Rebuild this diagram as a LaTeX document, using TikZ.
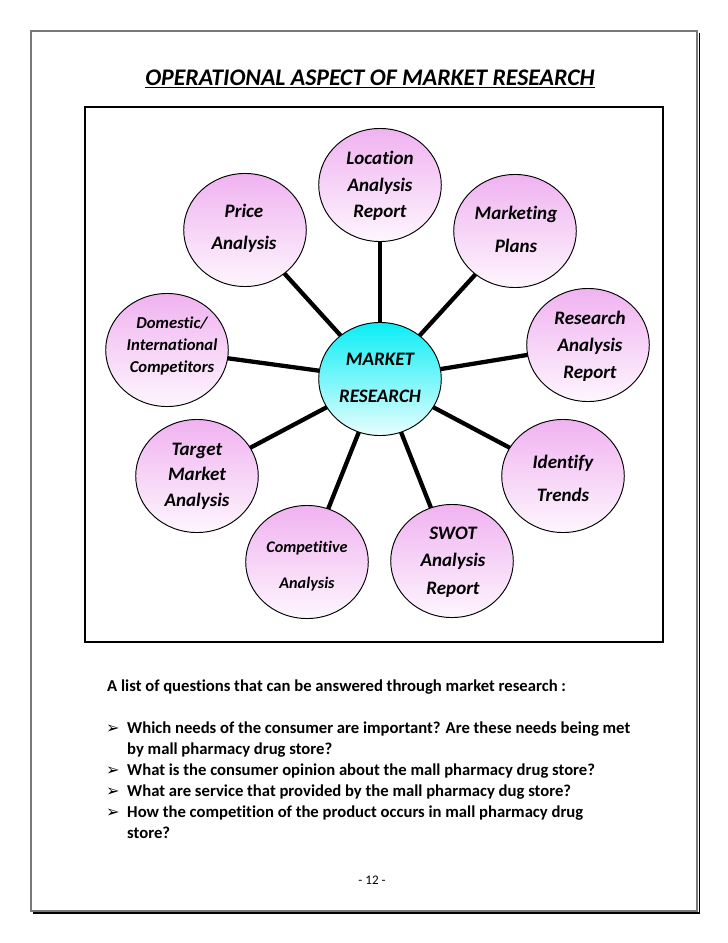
\documentclass[tikz,border=0pt]{standalone}
\usepackage{fontspec}
\setmainfont{Carlito}[Ligatures=NoCommon]
\newfontfamily\dejavu{DejaVu Sans}
\usetikzlibrary{shapes.geometric,backgrounds}
\definecolor{pinkT}{RGB}{240,178,240}
\definecolor{pinkB}{RGB}{254,246,254}
\definecolor{cyanT}{RGB}{10,238,245}
\definecolor{cyanB}{RGB}{232,254,254}
\definecolor{framegray}{RGB}{120,120,120}
\begin{document}
\begin{tikzpicture}[x=0.8403pt,y=-0.8403pt,
  ball/.style={ellipse, draw=black, line width=0.8pt, minimum width=103pt, minimum height=95pt, inner sep=0pt},
  pinkball/.style={ball, top color=pinkT, bottom color=pinkB},
  cyanball/.style={ball, top color=cyanT, bottom color=cyanB},
  lbl/.style={align=center, inner sep=0pt, font=\bfseries\itshape\fontsize{16}{#1}\selectfont},
  lbl/.default=22,
  conn/.style={line width=3.6pt, black},
  body/.style={anchor=base west, inner sep=0pt, font=\bfseries\fontsize{14}{16}\selectfont},
  bul/.style={anchor=base west, inner sep=0pt, font=\dejavu\fontsize{13.5}{15}\selectfont}
]
\useasboundingbox (0,0) rectangle (728,943);
% page frame
\draw[framegray, line width=1pt] (31,31) rectangle (697,911);
\draw[black, line width=1pt] (699.5,33) -- (699.5,913) -- (33,913);
% title
\node[inner sep=0pt, font=\bfseries\itshape\fontsize{20}{24}\selectfont] (title) at (370,79) {\underline{OPERATIONAL ASPECT OF MARKET RESEARCH}};
% diagram box
\draw[line width=2pt] (85,107) rectangle (663,642);
% balls
\node[cyanball] (c) at (380,379) {};
\node[pinkball] (loc) at (380,185) {};
\node[pinkball] (price) at (245,230) {};
\node[pinkball] (mkt) at (515,231) {};
\node[pinkball] (dom) at (167,350) {};
\node[pinkball] (res) at (588,345) {};
\node[pinkball] (tgt) at (197,476) {};
\node[pinkball] (idt) at (563,476) {};
\node[pinkball] (comp) at (307,562) {};
\node[pinkball] (swot) at (452,561) {};
% connectors
\begin{scope}[on background layer]
\foreach \n in {loc,price,mkt,dom,res,tgt,idt,comp,swot}
  \draw[conn] (c.center) -- (\n.center);
\end{scope}
% labels
\node[lbl=31] (ct) at (380,378) {MARKET\\RESEARCH};
\node[lbl=22.3] (loct) at (380,186) {Location\\Analysis\\Report};
\node[lbl=27] (pricet) at (244,228) {Price\\Analysis};
\node[lbl=27.7] (mktt) at (516,229) {Marketing\\Plans};
\node[align=center, inner sep=0pt, font=\bfseries\itshape\fontsize{14}{18.5}\selectfont] (domt) at (172,346) {Domestic/\\International\\Competitors};
\node[lbl=22.7] (rest) at (590,346) {Research\\Analysis\\Report};
\node[lbl=21.4] (tgtt) at (197,476) {Target\\Market\\Analysis};
\node[lbl=27.7] (idtt) at (563,478) {Identify\\Trends};
\node[align=center, inner sep=0pt, font=\bfseries\itshape\fontsize{13.6}{30}\selectfont] (compt) at (307,566) {Competitive\\Analysis};
\node[lbl=23] (swott) at (453,562) {SWOT\\Analysis\\Report};
% text below
\node[body] (intro) at (107,691) {A list of questions that can be answered through market research :};
\node[bul] (b1) at (106,733) {➢};
\node[body] (q1) at (127,733) {Which needs of the consumer are important? Are these needs being met};
\node[body] (q1b) at (127,754) {by mall pharmacy drug store?};
\node[bul] (b2) at (106,775) {➢};
\node[body] (q2) at (127,775) {What is the consumer opinion about the mall pharmacy drug store?};
\node[bul] (b3) at (106,796) {➢};
\node[body] (q3) at (127,796) {What are service that provided by the mall pharmacy dug store?};
\node[bul] (b4) at (106,817) {➢};
\node[body] (q4) at (127,817) {How the competition of the product occurs in mall pharmacy drug};
\node[body] (q4b) at (127,838) {store?};
\node[inner sep=0pt, font=\fontsize{11}{13}\selectfont] (page) at (372,880) {- 12 -};
\end{tikzpicture}
\end{document}
